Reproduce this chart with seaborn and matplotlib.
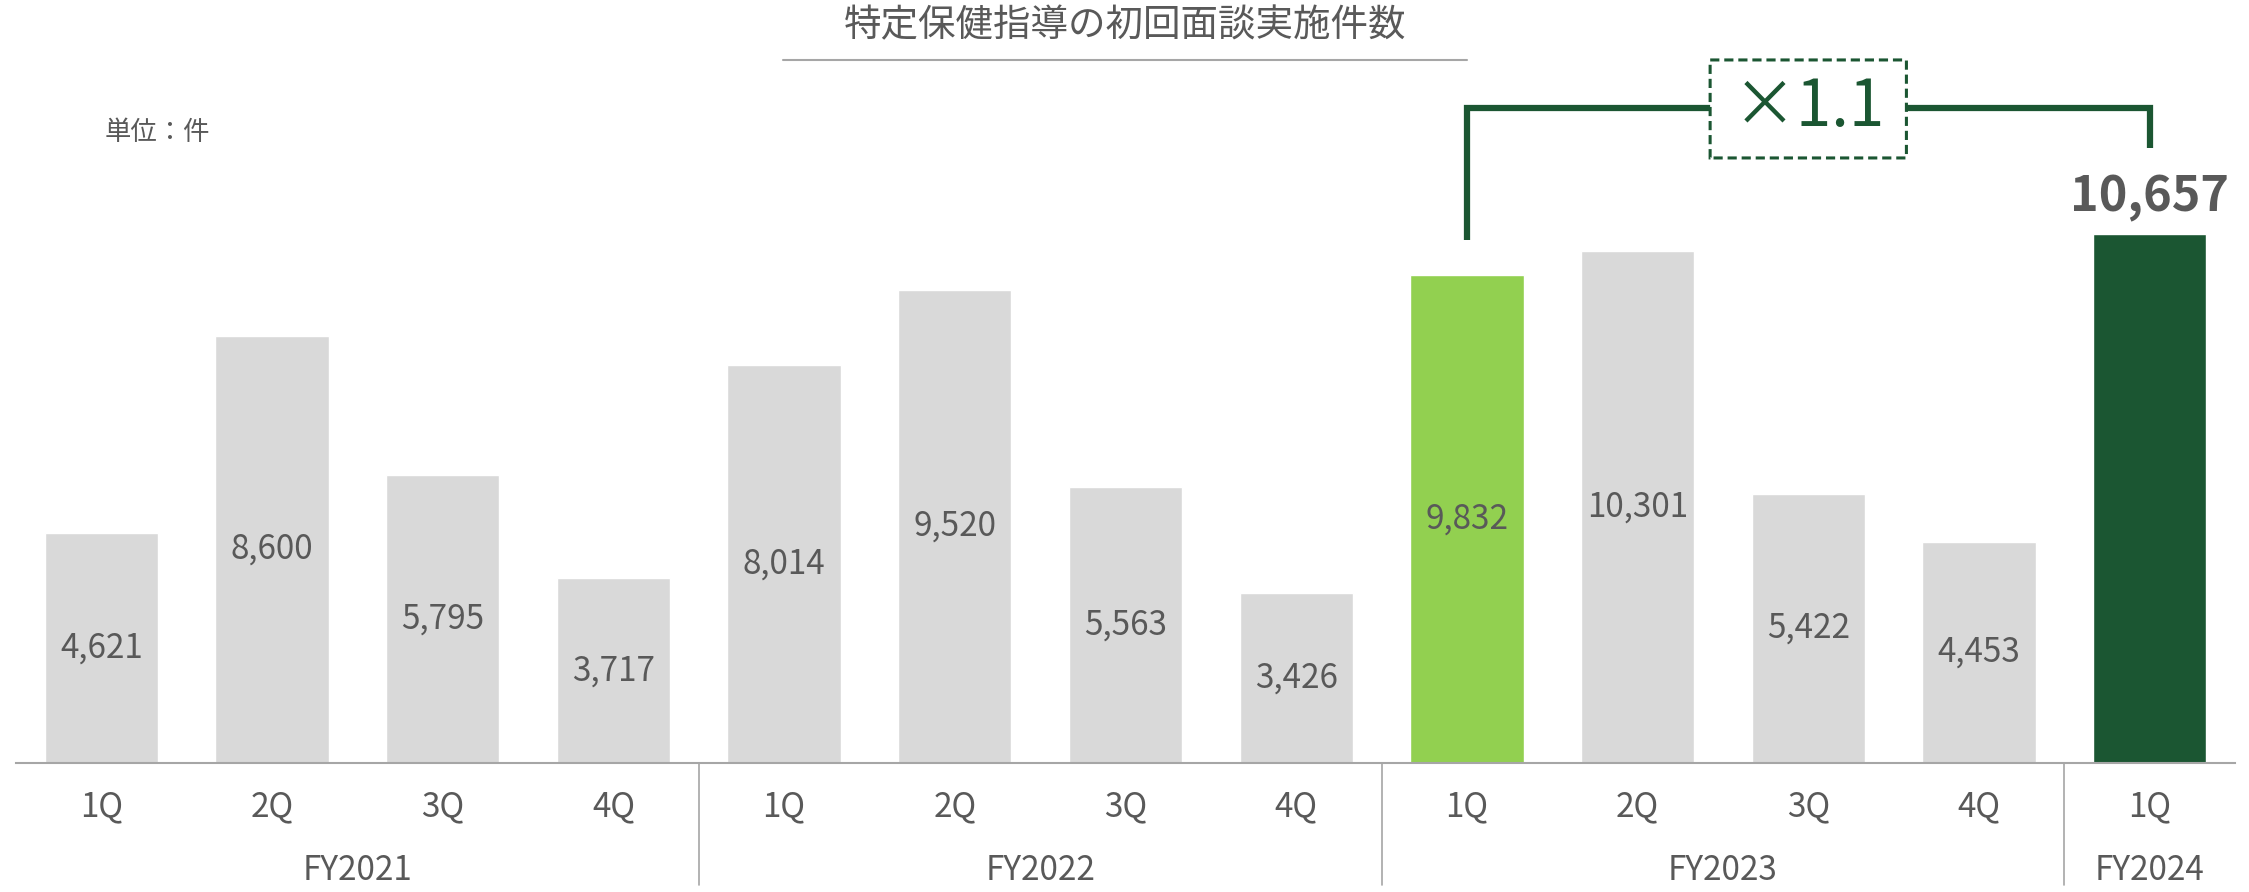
import matplotlib
matplotlib.use("Agg")
import matplotlib.pyplot as plt
import matplotlib.transforms as mtransforms
from matplotlib.lines import Line2D
from matplotlib.patches import FancyBboxPatch
import pandas as pd
import seaborn as sns

# ---- data -------------------------------------------------------------
fiscal_years = ["FY2021"] * 4 + ["FY2022"] * 4 + ["FY2023"] * 4 + ["FY2024"]
quarters = ["1Q", "2Q", "3Q", "4Q"] * 3 + ["1Q"]
counts = [4621, 8600, 5795, 3717,
          8014, 9520, 5563, 3426,
          9832, 10301, 5422, 4453,
          10657]
title = "特定保健指導の初回面談実施件数"
unit_label = "単位：件"
growth_label = "×1.1"

# ---- styling ----------------------------------------------------------
GRAY = "#d9d9d9"
LIGHT_GREEN = "#92d050"
DARK_GREEN = "#1b5632"
TEXT = "#595959"
AXIS = "#a6a6a6"

bar_colors = [GRAY] * len(counts)
bar_colors[8] = LIGHT_GREEN      # FY2023 1Q (comparison base)
bar_colors[12] = DARK_GREEN      # FY2024 1Q (latest)

sns.set_theme(style="white")
plt.rcParams["font.family"] = ["Noto Sans CJK JP", "DejaVu Sans"]

W, H = 2249, 892
fig = plt.figure(figsize=(W / 100, H / 100), dpi=100)
ax = fig.add_axes([16 / W, 129 / H, 2219 / W, 763 / H])

df = pd.DataFrame({
    "period": [f"{fy} {q}" for fy, q in zip(fiscal_years, quarters)],
    "count": counts,
})
sns.barplot(data=df, x="period", y="count", hue="period", palette=bar_colors,
            legend=False, width=0.664, saturation=1, ax=ax)

ax.set_xlim(-0.5, len(counts) - 0.5)
ax.set_ylim(0, 15361)
ax.set_xlabel("")
ax.set_ylabel("")
ax.set_xticks([])
ax.set_yticks([])
for side in ("top", "right", "left"):
    ax.spines[side].set_visible(False)
ax.spines["bottom"].set_color(AXIS)
ax.spines["bottom"].set_linewidth(1.5)

# x in data units, y in figure fraction
blend = mtransforms.blended_transform_factory(ax.transData, fig.transFigure)

def fy_frac(px):
    return 1 - px / H

# quarter labels
for i, q in enumerate(quarters):
    ax.text(i, fy_frac(807), q, transform=blend, ha="center", va="center",
            fontsize=24, color=TEXT)

# fiscal-year labels and separators
groups = []
for i, fy in enumerate(fiscal_years):
    if not groups or groups[-1][0] != fy:
        groups.append([fy, i, i])
    else:
        groups[-1][2] = i
for fy, start, end in groups:
    ax.text((start + end) / 2, fy_frac(871), fy, transform=blend,
            ha="center", va="center", fontsize=24, color=TEXT)
for fy, start, end in groups[1:]:
    ax.add_line(Line2D([start - 0.5, start - 0.5], [fy_frac(763), fy_frac(885)],
                       transform=blend, color=AXIS, lw=1.2, clip_on=False))

# value labels
for i, v in enumerate(counts[:-1]):
    ax.text(i, v / 2, f"{v:,}", ha="center", va="center", fontsize=24, color=TEXT)
last = len(counts) - 1
ax.annotate(f"{counts[last]:,}", (last, counts[last]), xytext=(0, 36),
            textcoords="offset pixels", ha="center", va="center",
            fontsize=35, fontweight="bold", color=TEXT)

# growth bracket between FY2023 1Q and FY2024 1Q
base = 8
bracket_y = 13190
ax.plot([base, base, last, last],
        [counts[base] + 700, bracket_y, bracket_y, counts[last] + 1720],
        color=DARK_GREEN, lw=4.5, solid_joinstyle="miter", solid_capstyle="butt",
        clip_on=False, zorder=3)
mid = (base + last) / 2
box = FancyBboxPatch((mid - 0.575, 12181), 1.15, 1973,
                     boxstyle="round,pad=0,rounding_size=0.02",
                     mutation_aspect=1973 / 1.15 / 85,
                     facecolor="white", edgecolor=DARK_GREEN, lw=2.2,
                     linestyle=(0, (3, 1.6)), zorder=4, clip_on=False)
ax.add_patch(box)
ax.text(mid, bracket_y, growth_label, ha="center", va="center", fontsize=46,
        color=DARK_GREEN, zorder=5)

# title with underline, and unit note
fig.text(1125 / W, fy_frac(26), title, ha="center", va="center",
         fontsize=27, color=TEXT)
fig.add_artist(Line2D([783 / W, 1467 / W], [fy_frac(60), fy_frac(60)],
                      color=AXIS, lw=1.5))
fig.text(105 / W, fy_frac(132), unit_label, ha="left", va="center",
         fontsize=19, color=TEXT)

fig.savefig("out.png", dpi=100)
